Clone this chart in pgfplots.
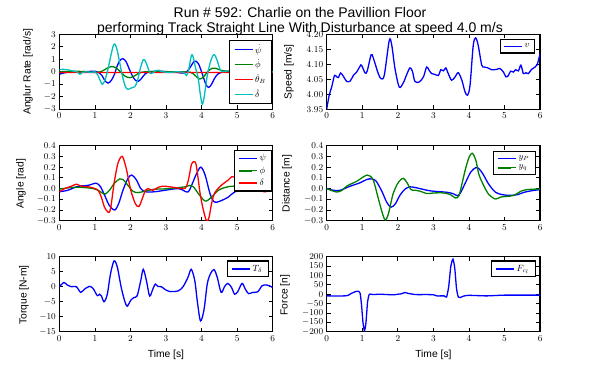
\documentclass[border=0pt]{standalone}
\usepackage{fontspec}
\newfontfamily\lsans{Liberation Sans}
\usepackage{pgfplots}
\pgfplotsset{compat=1.18}
\definecolor{mplblue}{rgb}{0,0,1}
\definecolor{mplgreen}{rgb}{0,0.5,0}
\definecolor{mplred}{rgb}{1,0,0}
\definecolor{mplcyan}{rgb}{0,0.75,0.75}
\pgfplotsset{
  panel/.style={
    scale only axis, width=213.4pt, height=75pt, anchor=south west,
    xmin=0, xmax=6, xtick={0,1,2,3,4,5,6},
    tick align=inside, xtick pos=both, ytick pos=both,
    major tick length=4pt,
    every tick/.style={black, line width=0.7pt},
    axis line style={line width=1.3pt},
    tick label style={font=\fontsize{9}{10}\selectfont},
    label style={font=\lsans\fontsize{10.3}{12}\selectfont},
    scaled ticks=false,
    legend style={font=\fontsize{9}{10}\selectfont, draw=black, line width=1.3pt, fill=white, anchor=north east, inner xsep=4pt, inner ysep=2pt, row sep=0pt, legend cell align=left},
    legend image code/.code={\draw[##1, line width=1.4pt] (0pt,0pt) -- (13pt,0pt); \path (0pt,0pt) -- (18pt,0pt);},
    every axis plot/.append style={line width=1.3pt, smooth, tension=0.5, mark=none},
  }
}
\begin{document}
\begin{tikzpicture}
% ---------- Panel 1: angular rates
\begin{axis}[panel, at={(59.3pt,260.7pt)}, ymin=-3, ymax=3, ytick={-3,-2,-1,0,1,2,3},
  legend style={at={(axis description cs:0.999,0.924)}, row sep=1pt}]
\addplot[mplblue] coordinates {(0,-0.2) (0.2,-0.05) (0.5,0.0) (0.8,0.02) (1.0,0.05) (1.1,-0.05) (1.2,-0.3) (1.28,-0.7) (1.37,-0.9) (1.46,-0.7) (1.55,-0.2) (1.62,0.4) (1.7,0.9) (1.79,1.05) (1.88,0.8) (1.97,0.2) (2.07,-0.4) (2.15,-0.7) (2.23,-0.75) (2.32,-0.5) (2.42,-0.15) (2.55,0.0) (2.8,0.05) (3.1,0.0) (3.3,-0.05) (3.5,-0.1) (3.6,0.05) (3.7,0.45) (3.78,0.8) (3.84,0.85) (3.92,0.6) (4.0,0.0) (4.07,-0.6) (4.13,-1.05) (4.2,-1.25) (4.28,-1.0) (4.36,-0.55) (4.45,-0.2) (4.55,-0.05) (4.8,0.05) (5.2,0.05) (5.6,0.03) (6,0.0)};
\addlegendentry{$\dot{\psi}$}
\addplot[mplgreen] coordinates {(0,0.0) (0.3,0.03) (0.6,0.03) (0.9,-0.03) (1.05,-0.05) (1.2,0.05) (1.35,0.3) (1.48,0.42) (1.6,0.3) (1.72,0.0) (1.85,-0.35) (1.98,-0.47) (2.1,-0.35) (2.25,-0.1) (2.4,0.0) (2.7,0.02) (3.0,0.0) (3.4,0.0) (3.7,-0.05) (3.82,-0.3) (3.95,-0.58) (4.06,-0.4) (4.18,0.05) (4.3,0.28) (4.4,0.28) (4.55,0.12) (4.8,0.03) (5.2,0.0) (6,0.0)};
\addlegendentry{$\dot{\phi}$}
\addplot[mplred] coordinates {(0,-0.06) (1,-0.05) (2,-0.05) (3,-0.05) (4,-0.05) (5,-0.05) (6,-0.05)};
\addlegendentry{$\dot{\theta}_B$}
\addplot[mplcyan] coordinates {(0,0.15) (0.1,0.2) (0.25,0.15) (0.4,0.05) (0.5,0.0) (0.58,-0.2) (0.65,-0.05) (0.75,0.0) (0.9,-0.05) (1.0,0.0) (1.08,-0.25) (1.15,-0.7) (1.21,-1.0) (1.28,-0.7) (1.36,0.1) (1.45,1.3) (1.52,2.1) (1.57,2.2) (1.63,1.7) (1.7,0.7) (1.78,-0.4) (1.86,-1.2) (1.93,-1.4) (2.02,-1.3) (2.12,-1.2) (2.2,-0.7) (2.28,0.3) (2.35,0.9) (2.4,0.95) (2.47,0.5) (2.55,-0.1) (2.62,-0.1) (2.72,0.1) (2.8,0.12) (2.9,0.0) (3.1,-0.05) (3.3,0.0) (3.5,-0.05) (3.58,-0.3) (3.64,0.2) (3.72,1.35) (3.78,1.0) (3.84,0.2) (3.9,-0.4) (3.96,-1.7) (4.02,-2.6) (4.08,-1.9) (4.16,-0.3) (4.25,0.8) (4.32,1.3) (4.37,1.35) (4.44,0.9) (4.52,0.2) (4.6,0.0) (4.8,0.1) (5.2,0.0) (5.6,0.0) (6,0.0)};
\addlegendentry{$\dot{\delta}$}
\end{axis}
% ---------- Panel 2: speed
\begin{axis}[panel, at={(326.7pt,260.7pt)}, ymin=3.95, ymax=4.2, ytick={3.95,4,4.05,4.1,4.15,4.2},
  yticklabel style={/pgf/number format/.cd, fixed, fixed zerofill, precision=2},
  legend style={at={(axis description cs:0.976,0.937)}, inner xsep=3pt}]
\addplot[mplblue] coordinates {(0,3.95) (0.07,3.997) (0.14,4.024) (0.22,4.063) (0.28,4.058) (0.33,4.056) (0.39,4.071) (0.47,4.06) (0.56,4.043) (0.66,4.044) (0.75,4.063) (0.84,4.074) (0.94,4.094) (0.98,4.097) (1.08,4.071) (1.14,4.078) (1.25,4.132) (1.31,4.121) (1.45,4.069) (1.53,4.052) (1.62,4.064) (1.76,4.18) (1.83,4.163) (1.92,4.086) (2.04,4.024) (2.16,4.04) (2.25,4.066) (2.34,4.088) (2.41,4.077) (2.48,4.043) (2.6,4.041) (2.72,4.058) (2.81,4.091) (2.88,4.08) (2.95,4.069) (3.05,4.066) (3.14,4.063) (3.21,4.082) (3.28,4.078) (3.35,4.088) (3.4,4.074) (3.51,4.047) (3.61,4.058) (3.7,4.072) (3.8,4.047) (3.89,4.008) (3.96,3.997) (4.03,4.03) (4.12,4.163) (4.19,4.188) (4.26,4.163) (4.36,4.097) (4.43,4.091) (4.53,4.088) (4.64,4.082) (4.78,4.083) (4.87,4.086) (4.97,4.074) (5.04,4.058) (5.11,4.063) (5.17,4.077) (5.25,4.074) (5.31,4.082) (5.39,4.078) (5.46,4.097) (5.53,4.069) (5.6,4.072) (5.67,4.069) (5.76,4.083) (5.86,4.091) (5.92,4.099) (6.0,4.136)};
\addlegendentry{$v$}
\end{axis}
% ---------- Panel 3: angles
\begin{axis}[panel, at={(59.3pt,149.3pt)}, ymin=-0.3, ymax=0.4, ytick={-0.3,-0.2,-0.1,0,0.1,0.2,0.3,0.4},
  yticklabel style={/pgf/number format/.cd, fixed, fixed zerofill, precision=1},
  legend style={at={(axis description cs:1.0,0.942)}, row sep=0.5pt}]
\addplot[mplblue] coordinates {(0,-0.03) (0.24,-0.016) (0.52,0.02) (0.81,0.03) (1.04,0.05) (1.16,0.016) (1.27,-0.06) (1.41,-0.16) (1.56,-0.2) (1.67,-0.14) (1.79,-0.016) (1.93,0.095) (2.04,0.126) (2.17,0.08) (2.29,0.0) (2.42,-0.03) (2.68,-0.03) (2.97,-0.016) (3.35,0.0) (3.53,-0.025) (3.63,-0.03) (3.72,0.03) (3.86,0.14) (3.98,0.2) (4.1,0.126) (4.24,-0.05) (4.36,-0.126) (4.52,-0.117) (4.75,-0.08) (4.94,-0.03) (5.22,-0.016) (5.5,0.0) (5.8,0.005) (6,0.0)};
\addlegendentry{$\psi$}
\addplot[mplgreen] coordinates {(0,-0.005) (0.34,0.01) (0.52,0.013) (0.9,0.003) (1.09,-0.016) (1.23,-0.047) (1.3,-0.05) (1.41,-0.016) (1.56,0.054) (1.7,0.09) (1.79,0.085) (1.93,0.03) (2.07,-0.025) (2.21,-0.038) (2.4,-0.025) (2.68,-0.006) (2.97,-0.003) (3.53,0.016) (3.67,0.03) (3.77,0.016) (3.91,-0.047) (4.05,-0.104) (4.14,-0.117) (4.28,-0.079) (4.47,-0.016) (4.66,0.01) (4.85,0.022) (5.03,0.022) (5.22,0.016) (5.6,0.0) (6,0.0)};
\addlegendentry{$\phi$}
\addplot[mplred] coordinates {(0,-0.03) (0.15,0.0) (0.34,0.022) (0.48,0.041) (0.62,0.022) (0.81,0.016) (0.95,0.006) (1.09,-0.016) (1.18,-0.079) (1.27,-0.173) (1.37,-0.22) (1.44,-0.19) (1.54,0.047) (1.65,0.237) (1.77,0.3) (1.88,0.19) (2.01,-0.016) (2.14,-0.142) (2.24,-0.167) (2.35,-0.079) (2.42,-0.016) (2.49,0.0) (2.63,-0.016) (2.77,0.01) (2.91,0.022) (2.97,0.022) (3.25,0.01) (3.44,0.0) (3.55,0.006) (3.63,0.079) (3.72,0.23) (3.81,0.25) (3.86,0.2) (3.96,-0.047) (4.05,-0.2) (4.14,-0.3) (4.21,-0.27) (4.28,-0.142) (4.37,-0.041) (4.56,0.032) (4.75,0.079) (4.85,0.11) (5.0,0.1) (5.2,0.07) (5.5,0.02) (5.75,-0.03) (6,-0.01)};
\addlegendentry{$\delta$}
\end{axis}
% ---------- Panel 4: distance
\begin{axis}[panel, at={(326.7pt,149.3pt)}, ymin=-0.3, ymax=0.4, ytick={-0.3,-0.2,-0.1,0,0.1,0.2,0.3,0.4},
  yticklabel style={/pgf/number format/.cd, fixed, fixed zerofill, precision=1},
  legend style={at={(axis description cs:0.981,0.928)}}]
\addplot[mplblue] coordinates {(0,0) (0.19,-0.016) (0.38,-0.016) (0.66,0.022) (0.94,0.054) (1.13,0.085) (1.27,0.09) (1.39,0.069) (1.55,-0.025) (1.69,-0.129) (1.81,-0.174) (1.93,-0.142) (2.07,-0.057) (2.21,-0.003) (2.35,0.016) (2.54,0.006) (2.82,-0.016) (3.01,-0.025) (3.39,-0.035) (3.57,-0.05) (3.67,-0.066) (3.76,-0.041) (3.9,0.054) (4.05,0.154) (4.19,0.195) (4.28,0.186) (4.4,0.132) (4.56,0.038) (4.75,-0.035) (4.94,-0.057) (5.13,-0.063) (5.36,-0.057) (5.55,-0.035) (5.79,-0.019) (6,-0.01)};
\addlegendentry{$y_P$}
\addplot[mplgreen] coordinates {(0,0) (0.14,-0.019) (0.28,-0.032) (0.42,-0.019) (0.56,0.022) (0.71,0.047) (0.85,0.069) (0.99,0.1) (1.13,0.126) (1.22,0.117) (1.32,0.069) (1.46,-0.104) (1.58,-0.246) (1.65,-0.293) (1.74,-0.23) (1.86,-0.057) (1.98,0.038) (2.07,0.079) (2.16,0.095) (2.26,0.054) (2.37,-0.01) (2.49,-0.016) (2.63,-0.025) (2.82,-0.047) (3.01,-0.041) (3.29,-0.041) (3.48,-0.057) (3.62,-0.088) (3.72,-0.066) (3.81,0.054) (3.9,0.18) (4.0,0.29) (4.09,0.33) (4.19,0.268) (4.28,0.132) (4.4,0.038) (4.56,-0.057) (4.75,-0.098) (4.89,-0.079) (5.08,-0.073) (5.27,-0.063) (5.46,-0.025) (5.64,-0.01) (6,-0.003)};
\addlegendentry{$y_q$}
\end{axis}
% ---------- Panel 5: torque
\begin{axis}[panel, at={(59.3pt,38.3pt)}, ymin=-15, ymax=10, ytick={-15,-10,-5,0,5,10},
  xlabel={Time [s]}, xlabel style={at={(axis description cs:0.5,-0.31)}, anchor=center},
  legend style={at={(axis description cs:0.982,0.95)}}]
\addplot[mplblue] coordinates {(0,0) (0.13,1.4) (0.22,0.6) (0.34,0) (0.48,0) (0.6,-1.9) (0.71,-0.8) (0.85,0.1) (0.95,-0.6) (1.07,-3.0) (1.13,-2.5) (1.18,-3.0) (1.26,-5.0) (1.35,-2.5) (1.44,4.3) (1.54,8.6) (1.63,6.6) (1.74,-0.2) (1.84,-4.8) (1.91,-6.5) (2.01,-4.5) (2.1,-3.6) (2.19,-3.0) (2.29,2.0) (2.36,5.8) (2.45,2.0) (2.54,-3.1) (2.63,-0.8) (2.7,0.9) (2.77,0.1) (2.87,0) (2.96,-0.8) (3.1,-1.6) (3.34,-1.4) (3.48,0) (3.62,3.2) (3.71,5.8) (3.81,2.0) (3.88,-4.8) (3.97,-11.4) (4.07,-7.6) (4.16,0.9) (4.25,4.3) (4.35,5.7) (4.44,3.2) (4.55,-1.9) (4.65,0.1) (4.74,1.1) (4.84,-0.2) (4.93,-2.5) (5.02,-1.6) (5.14,1.1) (5.23,-0.8) (5.32,-2.3) (5.44,-1.9) (5.58,-1.7) (5.7,0.3) (5.82,0.6) (5.91,0.3) (6,-0.3)};
\addlegendentry{$T_\delta$}
\end{axis}
% ---------- Panel 6: force
\begin{axis}[panel, at={(326.7pt,38.3pt)}, ymin=-200, ymax=200, ytick={-200,-150,-100,-50,0,50,100,150,200},
  xlabel={Time [s]}, xlabel style={at={(axis description cs:0.5,-0.31)}, anchor=center},
  legend style={at={(axis description cs:0.981,0.95)}}]
\addplot[mplblue, tension=0.35] coordinates {(0,-9) (0.5,-9) (0.6,-6) (0.7,5) (0.8,13) (0.88,16) (0.94,5) (0.98,-60) (1.02,-150) (1.06,-195) (1.1,-160) (1.15,-40) (1.2,0) (1.3,-2) (1.5,0) (1.7,-2) (1.9,-3) (2.0,0) (2.1,2) (2.2,9) (2.3,4) (2.5,-2) (2.8,-2) (3.0,-3) (3.1,-9) (3.3,-9) (3.37,-15) (3.43,40) (3.49,150) (3.55,187) (3.6,140) (3.65,30) (3.7,-15) (3.75,-18) (3.85,-10) (4.0,-6) (4.5,-9) (5.0,-5) (6,-5)};
\addlegendentry{$F_{c_l}$}
\end{axis}
% ---------- y-axis labels
\begin{scope}[every node/.style={rotate=90, anchor=center, font=\lsans\fontsize{10.3}{12}\selectfont}]
\node at (28pt,298.2pt) {Anglur Rate [rad/s]};
\node at (289pt,298.2pt) {Speed [m/s]};
\node at (21pt,186.3pt) {Angle [rad]};
\node at (287pt,186.3pt) {Distance [m]};
\node at (24pt,75pt) {Torque [N-m]};
\node at (285pt,75pt) {Force [n]};
\end{scope}
\node[anchor=base, font=\lsans\fontsize{14}{16}\selectfont] at (300pt,352.7pt) {Run \# 592: Charlie on the Pavillion Floor};
\node[anchor=base, font=\lsans\fontsize{14}{16}\selectfont] at (300pt,337.7pt) {performing Track Straight Line With Disturbance at speed 4.0 m/s};
\pgfresetboundingbox
\path[use as bounding box] (0pt,0pt) rectangle (600pt,370pt);
\end{tikzpicture}
\end{document}
